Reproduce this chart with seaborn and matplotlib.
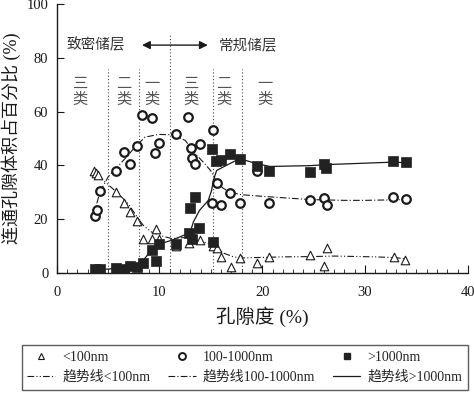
import numpy as np
import pandas as pd
import seaborn as sns
import matplotlib
matplotlib.use("Agg")
import matplotlib.pyplot as plt
from matplotlib.lines import Line2D

# measured points (porosity %, share of connected pore volume %)
tri_x = [3.6, 3.8, 4.0, 5.8, 6.5, 7.1, 7.8, 8.4, 9.3, 9.7, 10.0, 11.6, 12.9, 13.2,
         13.9, 15.2, 15.6, 16.0, 17.0, 17.8, 19.5, 20.7, 24.6, 26.3, 26.0, 32.8, 33.9]
tri_y = [37.8, 37.2, 36.5, 30.1, 26.2, 22.8, 19.5, 12.8, 12.8, 16.4, 12.8, 10.0, 11.0, 12.8,
         12.2, 10.1, 9.3, 6.0, 2.3, 5.4, 3.6, 5.8, 6.7, 9.4, 2.7, 6.0, 4.8]

circ_x = [3.7, 3.9, 4.2, 5.8, 6.5, 7.1, 7.8, 8.3, 9.3, 9.6, 10.0, 11.6, 12.8, 13.1, 13.9,
          13.2, 13.5, 15.2, 15.6, 15.1, 16.0, 16.9, 17.8, 19.5, 20.7, 24.6, 26.0, 26.3,
          32.7, 34.0]
circ_y = [21.2, 23.6, 30.5, 37.9, 44.9, 40.6, 47.1, 58.9, 57.7, 44.7, 48.4, 51.5, 57.9, 46.4,
          48.0, 42.8, 40.4, 53.0, 33.5, 26.0, 25.1, 29.9, 26.0, 37.9, 26.0, 27.3, 28.0, 25.4,
          28.3, 27.4]

sq_x = [3.7, 4.2, 5.8, 6.5, 7.1, 7.8, 8.4, 9.3, 9.7, 10.0, 11.6, 12.9, 13.2, 13.0, 13.5,
        13.8, 15.1, 15.2, 15.5, 16.0, 16.9, 17.8, 19.5, 20.7, 24.6, 26.0, 26.2, 32.7, 34.0]
sq_y = [1.4, 1.6, 1.9, 1.6, 2.6, 2.3, 3.6, 8.5, 4.6, 10.7, 10.7, 14.9, 12.5, 24.0, 28.3,
        16.8, 46.2, 11.6, 41.8, 42.1, 44.1, 42.5, 39.7, 37.9, 37.5, 40.4, 39.1, 41.5, 41.2]

# trend lines
tri_trend_x = [4.0, 4.9, 6.0, 7.0, 7.6, 8.4, 9.2, 10.2, 11.2, 12.5, 13.8, 14.8, 15.6, 16.3,
               17.2, 18.0, 20.0, 22.0, 24.6, 27.0, 31.0, 33.0, 34.0]
tri_trend_y = [36.3, 33.2, 29.5, 25.5, 22.1, 17.8, 15.3, 13.8, 12.8, 13.2, 12.0, 11.0, 9.5, 7.3,
               6.0, 5.6, 5.8, 6.0, 6.1, 6.3, 6.0, 5.7, 5.2]

circ_trend_x = [3.6, 4.2, 5.0, 6.0, 7.0, 7.6, 8.6, 9.9, 11.2, 12.5, 13.5, 14.4, 15.1, 15.6,
                16.2, 16.9, 18.0, 20.0, 24.6, 28.0, 30.0, 34.0]
circ_trend_y = [21.5, 30.1, 35.7, 39.8, 44.0, 46.8, 50.5, 51.5, 51.4, 49.3, 44.3, 40.6, 37.5,
                33.5, 31.5, 30.0, 29.1, 28.5, 27.3, 27.0, 27.0, 27.3]

sq_trend_x = [3.4, 6.0, 7.6, 8.3, 9.1, 9.7, 11.2, 12.6, 13.0, 13.3, 13.9, 14.75, 15.07, 15.24,
              15.56, 16.2, 17.8, 19.5, 20.75, 24.6, 26.3, 32.7, 34.0]
sq_trend_y = [1.1, 1.7, 2.6, 4.2, 7.9, 10.4, 12.2, 14.4, 15.3, 19.0, 23.3, 27.0, 30.7, 34.4,
              38.1, 39.4, 42.5, 40.6, 39.6, 39.9, 40.3, 41.2, 41.0]

# reservoir class boundaries and labels
bound_x = [5, 8, 11, 15.2, 18]
bound_top = [76, 76, 89, 76, 76]
class_x = [2.3, 6.5, 9.3, 13.1, 16.3, 20.3]
class_labels = ["三类", "二类", "一类", "三类", "二类", "一类"]

sns.set_style("ticks")
plt.rcParams["font.family"] = ["Liberation Serif", "Noto Sans CJK SC"]
plt.rcParams["axes.unicode_minus"] = False

ink = "#1a1a1a"
fig = plt.figure(figsize=(4.74, 3.93), dpi=100)
ax = fig.add_axes([0.1196, 0.3053, 0.8674, 0.6847])

sns.lineplot(x=tri_trend_x, y=tri_trend_y, sort=False, estimator=None, ax=ax,
             color=ink, lw=0.8, linestyle=(0, (6, 2, 1, 2, 1, 2)))
sns.lineplot(x=circ_trend_x, y=circ_trend_y, sort=False, estimator=None, ax=ax,
             color=ink, lw=0.8, linestyle=(0, (6, 2, 1, 2)))
sns.lineplot(x=sq_trend_x, y=sq_trend_y, sort=False, estimator=None, ax=ax,
             color=ink, lw=0.9)

sns.scatterplot(x=tri_x, y=tri_y, marker="^", s=38, facecolor="white",
                edgecolor=ink, linewidth=0.8, ax=ax, zorder=3)
sns.scatterplot(x=circ_x, y=circ_y, marker="o", s=38, facecolor="white",
                edgecolor=ink, linewidth=1.6, ax=ax, zorder=3)
sns.scatterplot(x=sq_x, y=sq_y, marker="s", s=46, color="#222222",
                edgecolor="#222222", linewidth=0.5, ax=ax, zorder=4)

for bx, top in zip(bound_x, bound_top):
    ax.plot([bx, bx], [0, top], ls=(0, (1, 2)), color="#444444", lw=0.8, zorder=1)

for cx, lab in zip(class_x, class_labels):
    ax.text(cx, 67.0, lab[0] + "\n" + lab[1], ha="center", va="center", fontsize=11,
            color="#555555", linespacing=1.15)

ax.annotate("", xy=(8.3, 84.7), xytext=(14.7, 84.7),
            arrowprops=dict(arrowstyle="<|-|>", color=ink, lw=1.0,
                            mutation_scale=12, shrinkA=0, shrinkB=0))
ax.text(3.8, 84.7, "致密储层", ha="center", va="center", fontsize=10.5, color="#333333")
ax.text(18.6, 84.7, "常规储层", ha="center", va="center", fontsize=10.5, color="#333333")

ax.set_xlim(0, 40)
ax.set_ylim(0, 100)
ax.set_xticks([0, 10, 20, 30, 40])
ax.set_xticks(np.arange(0, 41, 1), minor=True)
ax.set_yticks([0, 20, 40, 60, 80, 100])
ax.tick_params(axis="both", which="both", direction="in", colors=ink, labelsize=10.5)
ax.tick_params(axis="x", which="major", length=6, pad=9)
ax.tick_params(axis="x", which="minor", length=3)
ax.tick_params(axis="y", which="major", length=5, pad=6)
sns.despine(ax=ax)
for sp in ["left", "bottom"]:
    ax.spines[sp].set_color(ink)
    ax.spines[sp].set_linewidth(1.0)

ax.set_xlabel("孔隙度 (%)", fontsize=14, labelpad=6, color=ink)
ax.set_ylabel("连通孔隙体积占百分比 (%)", fontsize=13, labelpad=4, color=ink)

handles = [
    Line2D([], [], ls="none", marker="^", ms=5, mfc="white", mec=ink, mew=0.8),
    Line2D([], [], color=ink, lw=0.8, ls=(0, (6, 2, 1, 2, 1, 2))),
    Line2D([], [], ls="none", marker="o", ms=5, mfc="white", mec=ink, mew=1.4),
    Line2D([], [], color=ink, lw=0.8, ls=(0, (6, 2, 1, 2))),
    Line2D([], [], ls="none", marker="s", ms=5, mfc="#222222", mec="#222222"),
    Line2D([], [], color=ink, lw=0.9),
]
labels = ["<100nm", "趋势线<100nm", "100-1000nm", "趋势线100-1000nm",
          ">1000nm", "趋势线>1000nm"]
fig.legend(handles, labels, ncol=3, loc="upper left",
           bbox_to_anchor=(0.046, 0.122, 0.941, 0.0), mode="expand",
           fontsize=10, frameon=True, fancybox=False, edgecolor="#333333",
           handlelength=2.0, handletextpad=0.5, columnspacing=0.8,
           borderaxespad=0, labelspacing=0.5)

fig.savefig("out.png", dpi=100)
